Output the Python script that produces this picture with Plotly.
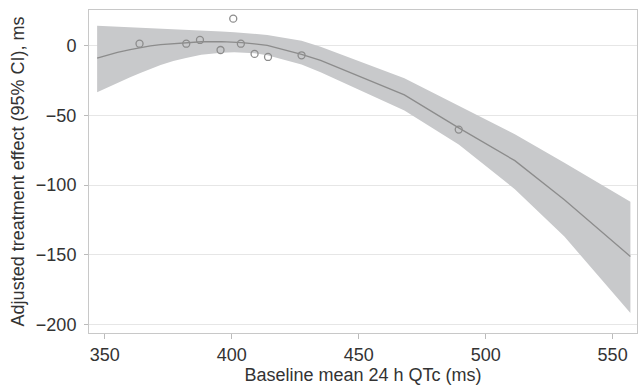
import plotly.graph_objects as go

# Observed points
pt_x = [363.7, 382.1, 387.5, 395.6, 400.6, 403.6, 409.0, 414.3, 427.5, 489.4]
pt_y = [1.4, 1.4, 4.1, -3.1, 19.4, 1.4, -5.9, -8.1, -6.9, -60.2]

# Fitted curve and 95% CI
fit_x = [347, 351, 355, 360, 364, 368, 372, 377, 382, 388, 396, 401, 404, 409, 414, 427.5, 435, 468, 489.4, 511.5, 531, 557]
fit_y = [-9.0, -6.8, -4.8, -2.8, -1.3, -0.2, 0.7, 1.5, 2.2, 2.8, 2.9, 2.6, 2.2, 1.3, 0.2, -6.2, -10.5, -35.3, -59.0, -82.5, -110.5, -151.3]
ci_hi = [14.3, 14.0, 13.7, 13.3, 13.0, 12.7, 12.4, 12.0, 11.6, 11.0, 10.2, 9.7, 9.3, 8.5, 7.7, 3.5, -0.8, -23.4, -43.0, -63.5, -84.0, -112.0]
ci_lo = [-33.4, -30.0, -26.8, -22.6, -19.6, -16.6, -13.9, -11.0, -8.8, -6.6, -5.0, -4.7, -4.8, -5.5, -6.8, -13.5, -19.0, -46.5, -71.0, -103.0, -137.0, -191.8]

x_ticks = [350, 400, 450, 500, 550]
y_ticks = [0, -50, -100, -150, -200]

fig = go.Figure()
fig.add_trace(go.Scatter(
    x=fit_x + fit_x[::-1], y=ci_hi + ci_lo[::-1],
    fill="toself", fillcolor="#c8c9cb", line=dict(width=0),
    mode="lines", hoverinfo="skip", showlegend=False))
fig.add_trace(go.Scatter(
    x=fit_x, y=fit_y, mode="lines",
    line=dict(color="#8c8c8c", width=1.3), showlegend=False))
fig.add_trace(go.Scatter(
    x=pt_x, y=pt_y, mode="markers",
    marker=dict(symbol="circle-open", size=7, color="#8c8c8c", line=dict(width=1.3)),
    showlegend=False))

font = "Liberation Sans, Arial, sans-serif"
fig.update_layout(
    width=638, height=385,
    margin=dict(l=89, r=1, t=10, b=52),
    plot_bgcolor="white", paper_bgcolor="white",
    font=dict(family=font, size=18, color="#333333"),
)
fig.update_xaxes(
    range=[343.8, 559.6], tickvals=x_ticks, ticks="outside", ticklen=5,
    tickcolor="#bbbbbb", showgrid=False, zeroline=False,
    showline=True, linecolor="#c8c8c8", mirror=True,
    tickfont=dict(size=18, color="#333333"),
    title=dict(text="Baseline mean 24 h QTc (ms)", font=dict(size=18, color="#333333"), standoff=3),
)
fig.update_yaxes(
    range=[-206.2, 25.6], tickvals=y_ticks, ticks="outside", ticklen=4,
    tickcolor="#bbbbbb", showgrid=True, gridcolor="#e6e6e6", zeroline=False,
    showline=True, linecolor="#c8c8c8", mirror=True,
    tickfont=dict(size=18, color="#333333"), ticklabelstandoff=4,
    title=dict(text="Adjusted treatment effect (95% CI), ms", font=dict(size=18, color="#333333"), standoff=6),
)
fig.write_html("out.html")
